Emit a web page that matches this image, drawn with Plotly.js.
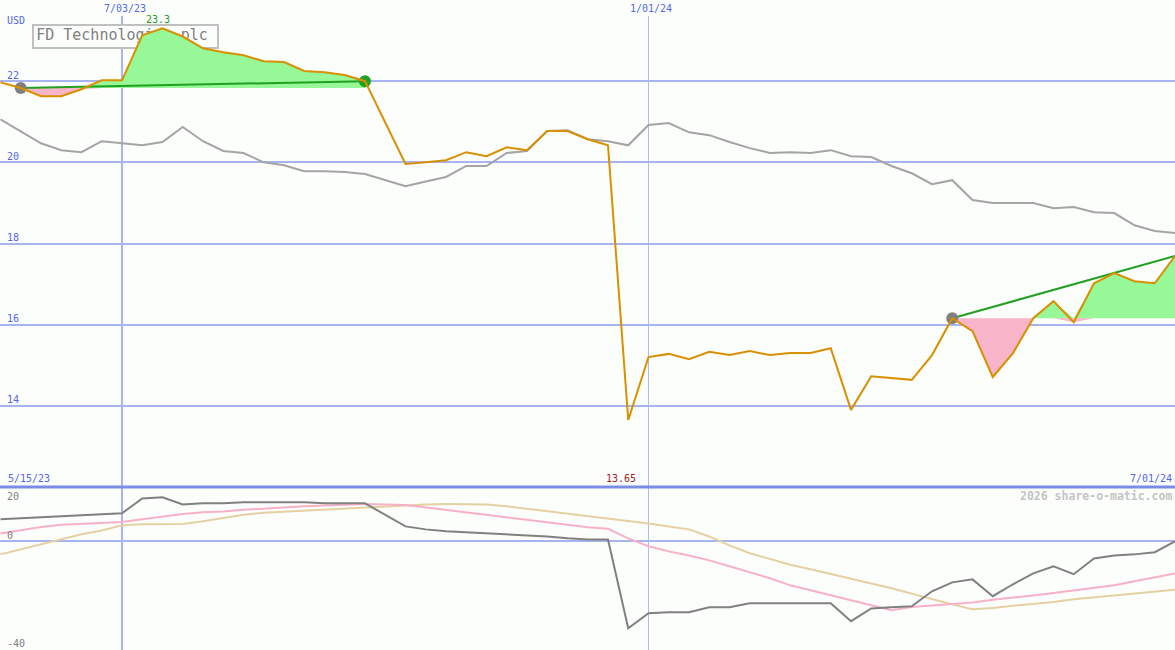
<!DOCTYPE html>
<html>
<head>
<meta charset="utf-8">
<script src="https://cdn.plot.ly/plotly-3.0.1.min.js"></script>
<style>html,body{margin:0;padding:0;background:#fcfefc;}#chart{width:1175px;height:650px;}</style>
</head>
<body>
<div id="chart"></div>
<script>
// ---- data (weekly) ----
const dates = ['2023-05-22','2023-05-29','2023-06-05','2023-06-12','2023-06-19','2023-06-26','2023-07-03','2023-07-10','2023-07-17','2023-07-24','2023-07-31','2023-08-07','2023-08-14','2023-08-21','2023-08-28','2023-09-04','2023-09-11','2023-09-18','2023-09-25','2023-10-02','2023-10-09','2023-10-16','2023-10-23','2023-10-30','2023-11-06','2023-11-13','2023-11-20','2023-11-27','2023-12-04','2023-12-11','2023-12-18','2023-12-25','2024-01-01','2024-01-08','2024-01-15','2024-01-22','2024-01-29','2024-02-05','2024-02-12','2024-02-19','2024-02-26','2024-03-04','2024-03-11','2024-03-18','2024-03-25','2024-04-01','2024-04-08','2024-04-15','2024-04-22','2024-04-29','2024-05-06','2024-05-13','2024-05-20','2024-05-27','2024-06-03','2024-06-10','2024-06-17','2024-06-24','2024-07-01'];

// share price (USD)
const price = [21.97,21.83,21.63,21.63,21.80,22.02,22.02,23.13,23.3,23.1,22.81,22.71,22.64,22.49,22.47,22.25,22.22,22.15,22.0,null,19.96,20.0,20.05,20.25,20.15,20.37,20.30,20.77,20.77,20.57,20.42,13.65,15.20,15.28,15.15,15.33,15.25,15.35,15.25,15.30,15.30,15.42,13.90,14.73,14.68,14.64,15.25,16.16,15.84,14.71,15.30,16.16,16.58,16.06,17.02,17.27,17.07,17.02,17.69];

// comparison line (grey, top panel)
const compare = [21.06,20.77,20.47,20.30,20.25,20.52,20.47,20.42,20.50,20.87,20.52,20.28,20.23,20.0,19.93,19.78,19.78,19.76,19.71,null,19.41,19.53,19.64,19.91,19.91,20.23,20.28,20.77,20.79,20.57,20.52,20.42,20.92,20.97,20.74,20.67,20.50,20.35,20.23,20.25,20.23,20.30,20.15,20.13,19.91,19.73,19.46,19.56,19.07,19.0,19.0,19.0,18.87,18.90,18.77,18.75,18.45,18.31,18.26];

// lower panel indicators
const momentum = [8.1,8.5,8.8,9.2,9.6,9.9,10.3,15.8,16.2,13.6,14.0,14.0,14.4,14.4,14.4,14.4,14.0,14.0,14.0,null,5.5,4.4,3.7,3.3,2.9,2.6,2.2,1.8,1.1,0.7,0.7,-32.0,-26.5,-26.1,-26.1,-24.3,-24.3,-22.8,-22.8,-22.8,-22.8,-22.8,-29.4,-24.7,-24.3,-23.9,-18.4,-15.1,-14.0,-20.2,-15.8,-11.8,-9.2,-12.1,-6.3,-5.2,-4.8,-4.0,0.0];
const avgShort = [2.9,4.1,5.3,6.1,6.5,6.8,7.1,8.1,9.0,10.1,10.7,11.0,11.6,12.1,12.5,12.9,13.2,13.4,13.7,null,13.4,12.5,11.6,10.7,9.8,8.8,7.9,7.0,6.1,5.2,4.6,1.1,-1.8,-3.7,-5.2,-7.0,-9.2,-11.4,-13.6,-16.2,-18.0,-19.9,-21.7,-23.6,-25.4,-24.2,-23.6,-23.0,-22.5,-21.5,-20.8,-19.9,-19.0,-18.0,-17.1,-16.2,-14.7,-13.2,-11.8];
const avgLong = [-4.8,-2.9,-1.1,0.7,2.6,4.0,5.9,6.3,6.3,6.4,7.4,8.5,9.8,10.5,10.9,11.2,11.6,12.0,12.3,null,13.1,13.6,13.7,13.7,13.6,12.9,12.0,11.0,10.1,9.4,8.5,7.5,6.6,5.5,4.4,1.8,-1.5,-4.4,-6.6,-8.6,-10.3,-12.0,-13.6,-15.5,-17.3,-19.3,-21.2,-23.2,-25.0,-24.5,-23.7,-23.0,-22.3,-21.3,-20.6,-19.9,-19.1,-18.4,-17.8];

// trend segments (start index, end index)
const seg1 = [1, 18];
const seg2 = [47, 58];

const title = 'FD Technologies plc';
const topTicks = [14, 16, 18, 20, 22];

// ---- styling ----
const BG = '#fcfefc';
const GRID = '#a8b4f0';
const BLUE = '#5566ee';
const MONO = 'DejaVu Sans Mono, Liberation Mono, monospace';
const W = 1175, H = 650, SPLIT = 487;

const traces = [];

// title text (drawn first so data covers it)
traces.push({x:[dates[6]], y:[24 - 36/SPLIT*12], mode:'text', text:[title], textposition:'middle center',
  textfont:{family:MONO, size:15, color:'#808080'}, xaxis:'x', yaxis:'y', hoverinfo:'skip', showlegend:false});

function segFill(seg){
  const [a,b] = seg;
  const xs = dates.slice(a, b+1);
  const ps = price.slice(a, b+1);
  const base = price[a];
  const baseArr = xs.map(()=>base);
  const up = ps.map(v=>Math.max(v, base));
  const lo = ps.map(v=>Math.min(v, base));
  const common = {x:xs, mode:'lines', line:{width:0}, hoverinfo:'skip', showlegend:false, xaxis:'x', yaxis:'y'};
  traces.push(Object.assign({}, common, {y:baseArr}));
  traces.push(Object.assign({}, common, {y:up, fill:'tonexty', fillcolor:'#96f896'}));
  traces.push(Object.assign({}, common, {y:baseArr}));
  traces.push(Object.assign({}, common, {y:lo, fill:'tonexty', fillcolor:'#f8b4c8'}));
}
segFill(seg1);
segFill(seg2);

traces.push({x:dates, y:compare, mode:'lines', connectgaps:true, line:{color:'#a4a4a4', width:2}, xaxis:'x', yaxis:'y', hoverinfo:'skip', showlegend:false});

[seg1, seg2].forEach(s=>{
  traces.push({x:[dates[s[0]], dates[s[1]]], y:[price[s[0]], price[s[1]]], mode:'lines', line:{color:'#22a022', width:2}, xaxis:'x', yaxis:'y', hoverinfo:'skip', showlegend:false});
});

traces.push({x:[dates[seg1[0]], dates[seg2[0]]], y:[price[seg1[0]], price[seg2[0]]], mode:'markers', marker:{color:'#808080', size:12}, xaxis:'x', yaxis:'y', hoverinfo:'skip', showlegend:false});
traces.push({x:[dates[seg1[1]]], y:[price[seg1[1]]], mode:'markers', marker:{color:'#22a022', size:12}, xaxis:'x', yaxis:'y', hoverinfo:'skip', showlegend:false});

traces.push({x:dates, y:price, mode:'lines', connectgaps:true, line:{color:'#d89000', width:2}, xaxis:'x', yaxis:'y', hoverinfo:'skip', showlegend:false});

// lower panel
traces.push({x:dates, y:avgLong, mode:'lines', connectgaps:true, line:{color:'#e4d0a0', width:2}, xaxis:'x', yaxis:'y2', hoverinfo:'skip', showlegend:false});
traces.push({x:dates, y:avgShort, mode:'lines', connectgaps:true, line:{color:'#f8b0c8', width:2}, xaxis:'x', yaxis:'y2', hoverinfo:'skip', showlegend:false});
traces.push({x:dates, y:momentum, mode:'lines', connectgaps:true, line:{color:'#808080', width:2}, xaxis:'x', yaxis:'y2', hoverinfo:'skip', showlegend:false});

// ---- annotations ----
function A(text, px, py, xanchor, color, size, extra){
  return Object.assign({text:text, xref:'paper', yref:'paper', x:px/W, y:1-py/H, xanchor:xanchor, yanchor:'middle',
    showarrow:false, borderpad:0, font:{family:MONO, size:size||10, color:color}}, extra||{});
}
const iMax = price.indexOf(Math.max(...price.filter(v=>v!==null)));
const iMin = price.indexOf(Math.min(...price.filter(v=>v!==null)));
const annotations = [
  A('USD', 6, 21, 'left', BLUE),
  A('7/03/23', 0, 9, 'center', BLUE, 10, {xref:'x', x:'2023-07-03', xshift:3}),
  A('1/01/24', 0, 9, 'center', BLUE, 10, {xref:'x', x:'2024-01-01', xshift:3}),
  A('5/15/23', 7, 478, 'left', BLUE),
  A('7/01/24', 1173, 478, 'right', BLUE),
  A('2026 share-o-matic.com', 1173, 496, 'right', '#c4c4c4', 11.5, {font:{family:MONO, size:11.5, color:'#c4c4c4', weight:'bold'}}),
  A('20', 6, 496, 'left', '#808080'),
  A('0', 6, 535, 'left', '#808080'),
  A('-40', 6, 643, 'left', '#808080'),
  {text:String(price[iMax]), xref:'x', yref:'y', x:dates[iMax], y:price[iMax], yshift:9, xshift:-4, xanchor:'center', yanchor:'middle', showarrow:false, borderpad:0, font:{family:MONO, size:10, color:'#22a022'}},
  {text:String(price[iMin]), xref:'x', yref:'paper', x:dates[iMin], y:1-478/H, xshift:9, xanchor:'right', yanchor:'middle', showarrow:false, borderpad:0, font:{family:MONO, size:10, color:'#a02020'}}
];
topTicks.forEach(v=>{
  annotations.push({text:String(v), xref:'paper', yref:'y', x:6/W, y:v, yshift:6, xanchor:'left', yanchor:'middle', showarrow:false, borderpad:0, font:{family:MONO, size:10, color:BLUE}});
});

const shapes = [
  {type:'line', xref:'x', yref:'paper', x0:'2023-07-03', x1:'2023-07-03', y0:0, y1:1-16/H, line:{color:GRID, width:2}, layer:'below'},
  {type:'line', xref:'x', yref:'paper', x0:'2024-01-01', x1:'2024-01-01', y0:0, y1:1-16/H, line:{color:'#b0baf0', width:1}, layer:'below'},
  {type:'rect', xref:'paper', yref:'paper', x0:33/W, x1:218/W, y0:1-48/H, y1:1-25/H, fillcolor:BG, line:{color:'#c0c0c0', width:2}, layer:'below'},
  {type:'line', xref:'paper', yref:'paper', x0:0, x1:1, y0:1-SPLIT/H, y1:1-SPLIT/H, line:{color:'#7b8ce8', width:3}, layer:'above'}
];

const layout = {
  width:W, height:H,
  margin:{l:0, r:0, t:0, b:0, pad:0},
  paper_bgcolor:BG, plot_bgcolor:BG,
  showlegend:false,
  xaxis:{type:'date', range:['2023-05-21 20:00','2024-07-01'], showgrid:false, zeroline:false, showline:false, showticklabels:false, ticks:'', anchor:'y2'},
  yaxis:{domain:[1-SPLIT/H, 1], range:[12, 24], tickvals:topTicks, showgrid:true, gridcolor:GRID, gridwidth:2, zeroline:false, showline:false, showticklabels:false, ticks:''},
  yaxis2:{domain:[0, 1-SPLIT/H], range:[-40, 20], tickvals:[0], showgrid:true, gridcolor:GRID, gridwidth:2, zeroline:false, showline:false, showticklabels:false, ticks:''},
  annotations:annotations,
  shapes:shapes
};

Plotly.newPlot('chart', traces, layout, {staticPlot:true, displayModeBar:false});
</script>
</body>
</html>
